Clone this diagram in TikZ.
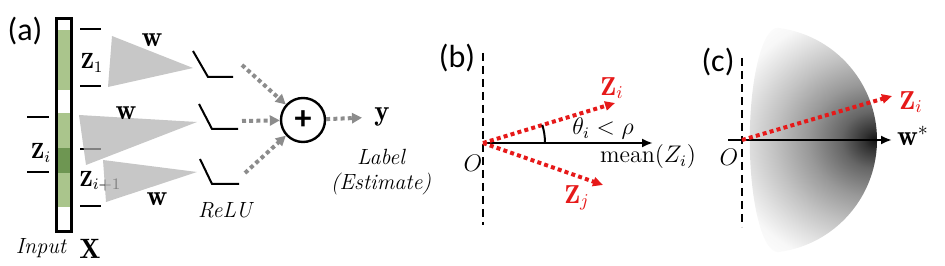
\documentclass[tikz,border=0pt]{standalone}
\usepackage{amsmath,bm}
\usepackage{fontspec}
\newfontfamily\panelfont{Carlito}
\usetikzlibrary{arrows.meta}

\definecolor{barlight}{RGB}{170,197,140}
\definecolor{bardark}{RGB}{110,150,82}
\definecolor{dotred}{RGB}{230,25,25}
\pgfdeclareradialshading{capshade}{\pgfpoint{0bp}{0bp}}{color(0bp)=(black!92); color(2bp)=(black!80); color(6bp)=(black!60); color(12bp)=(black!40); color(18bp)=(black!24); color(23bp)=(black!12); color(27bp)=(black!3); color(32bp)=(white); color(50bp)=(white)}

\begin{document}
\begin{tikzpicture}[x=0.5pt, y=-0.5pt, >=latex]

	% Define node styles
	\tikzstyle{panel label} = [font=\panelfont\fontsize{16}{18}\selectfont, inner sep=0pt]
	\tikzstyle{vec label} = [inner sep=1pt, font=\fontsize{11}{13}\selectfont]
	\tikzstyle{big label} = [inner sep=1pt, font=\fontsize{14.4}{16}\selectfont]
	\tikzstyle{math label} = [inner sep=1pt, font=\fontsize{12}{14}\selectfont]
	\tikzstyle{red label} = [inner sep=1pt, font=\fontsize{13}{15}\selectfont, text=dotred]
	\tikzstyle{note label} = [inner sep=1pt, font=\itshape\fontsize{11}{12.5}\selectfont, align=center]
	\tikzstyle{weight tri} = [fill=black!30, fill opacity=0.73]
	\tikzstyle{relu line} = [line width=1pt]
	\tikzstyle{tick line} = [line width=1pt]
	\tikzstyle{gray arrow} = [draw=black!45, line width=2pt, dash pattern=on 2pt off 1.6pt, -{Triangle[length=5pt,width=5pt]}]
	\tikzstyle{red arrow} = [draw=dotred, line width=2pt, dash pattern=on 2pt off 1.6pt, -{Triangle[length=5pt,width=4.5pt]}]
	\tikzstyle{axis arrow} = [line width=1.4pt, -{Latex[length=5.5pt,width=4.5pt]}]
	\tikzstyle{origin line} = [line width=0.9pt, dash pattern=on 4pt off 2.5pt]

	\useasboundingbox (0,0) rectangle (945,266);

	% Panel (a): input bar
	\node[panel label] (pa) at (25,31) {(a)};
	\fill[barlight] (56,30) rectangle (72,90);
	\fill[barlight] (56,113) rectangle (72,207);
	\fill[bardark] (56,148) rectangle (72,173);
	\node[draw, line width=1.2pt, minimum width=7.4pt, minimum height=106.4pt, inner sep=0pt] (xbar) at (64,125) {};
	\foreach \y in {29,86,149,206}
		\draw[tick line] (80,\y) -- (101,\y);
	\foreach \y in {117,172}
		\draw[tick line] (27,\y) -- (49,\y);

	\node[vec label] (z1) at (92,63) {$\mathbf{Z}_1$};
	\node[vec label] (zi) at (41,153) {$\mathbf{Z}_i$};
	\node[vec label, anchor=west] (zip) at (77,181) {$\mathbf{Z}_{i+1}$};
	\node[note label] (inp) at (41,248) {Input};
	\node[vec label, font=\fontsize{14}{16}\selectfont] (xvec) at (90,249) {$\mathbf{X}$};

	% Place weights and ReLUs
	\fill[weight tri] (112,36) -- (193,68) -- (108,87) -- cycle;
	\fill[weight tri] (79,115) -- (197,122) -- (86,165) -- cycle;
	\fill[weight tri] (103,160) -- (197,172) -- (106,202) -- cycle;
	\node[big label] (w1) at (152,40) {$\mathbf{w}$};
	\node[big label] (w2) at (126,113) {$\mathbf{w}$};
	\node[big label] (w3) at (157,199) {$\mathbf{w}$};

	\draw[relu line] (193,51) -- (208,77) -- (233,77);
	\draw[relu line] (199,104) -- (212,129) -- (238,129);
	\draw[relu line] (200,159) -- (212,184) -- (239,184);
	\node[note label] (relu) at (225,210) {ReLU};
	\coordinate (r1) at (242,65);
	\coordinate (r2) at (242,121);
	\coordinate (r3) at (245,173);

	\node[circle, draw, line width=1.2pt, minimum size=22pt, inner sep=0pt, font=\panelfont\bfseries\fontsize{17}{18}\selectfont] (sum) at (303,120) {+};
	\node[big label] (y) at (382,117) {$\mathbf{y}$};
	\node[note label] (est) at (381,172) {Label\\(Estimate)};

	% Draw edges into the sum
	\foreach \source/\dest/\gap in {
		r1/sum/0pt,
		r2/sum/0pt,
		r3/sum/0pt,
		sum/y/5pt}
	\path (\source) edge[gray arrow, shorten >=\gap] (\dest);

	% Panel (b)
	\node[panel label] (pb) at (457,58) {(b)};
	\coordinate (btop) at (483,53);
	\coordinate (bbot) at (483,225);
	\draw[origin line] (btop) -- (bbot);
	\coordinate (ob) at (483,143);
	\coordinate (mend) at (653,143);
	\draw[axis arrow] (ob) -- (mend);
	\coordinate (zie) at (615,103);
	\coordinate (zje) at (603,185);
	\foreach \dest in {zie, zje}
		\path (ob) edge[red arrow] (\dest);
	\draw[line width=1pt] (545,143) arc[start angle=0, end angle=-17, radius=62];
	\node[red label] (zbi) at (612,88) {$\mathbf{Z}_i$};
	\node[red label] (zbj) at (577,198) {$\mathbf{Z}_j$};
	\node[math label] (ang) at (603,129) {$\theta_i < \rho$};
	\node[math label] (mean) at (648,157) {$\mathrm{mean}(Z_i)$};
	\node[math label, font=\fontsize{13}{15}\selectfont] (obl) at (473,163) {$O$};

	% Panel (c)
	\node[panel label] (pc) at (718,62) {(c)};
	\begin{scope}
		\clip (764,140) ++(-83:113) arc[start angle=-83, end angle=83, radius=113]
			arc[start angle=90, end angle=270, x radius=28, y radius=112.2] -- cycle;
		\shade[shading=capshade] (735,20) rectangle (1015,260);
	\end{scope}
	\coordinate (ctop) at (742,58);
	\coordinate (cbot) at (742,227);
	\draw[origin line] (ctop) -- (cbot);
	\coordinate (oc) at (742,140);
	\coordinate (cstart) at (728,140);
	\coordinate (wend) at (892,140);
	\draw[axis arrow] (cstart) -- (wend);
	\coordinate (zce) at (892,96);
	\path (oc) edge[red arrow] (zce);
	\node[big label] (wstar) at (913,136) {$\mathbf{w}^*$};
	\node[red label] (zci) at (911,102) {$\mathbf{Z}_i$};
	\node[math label, font=\fontsize{13}{15}\selectfont] (ocl) at (729,157) {$O$};

\end{tikzpicture}
\end{document}
